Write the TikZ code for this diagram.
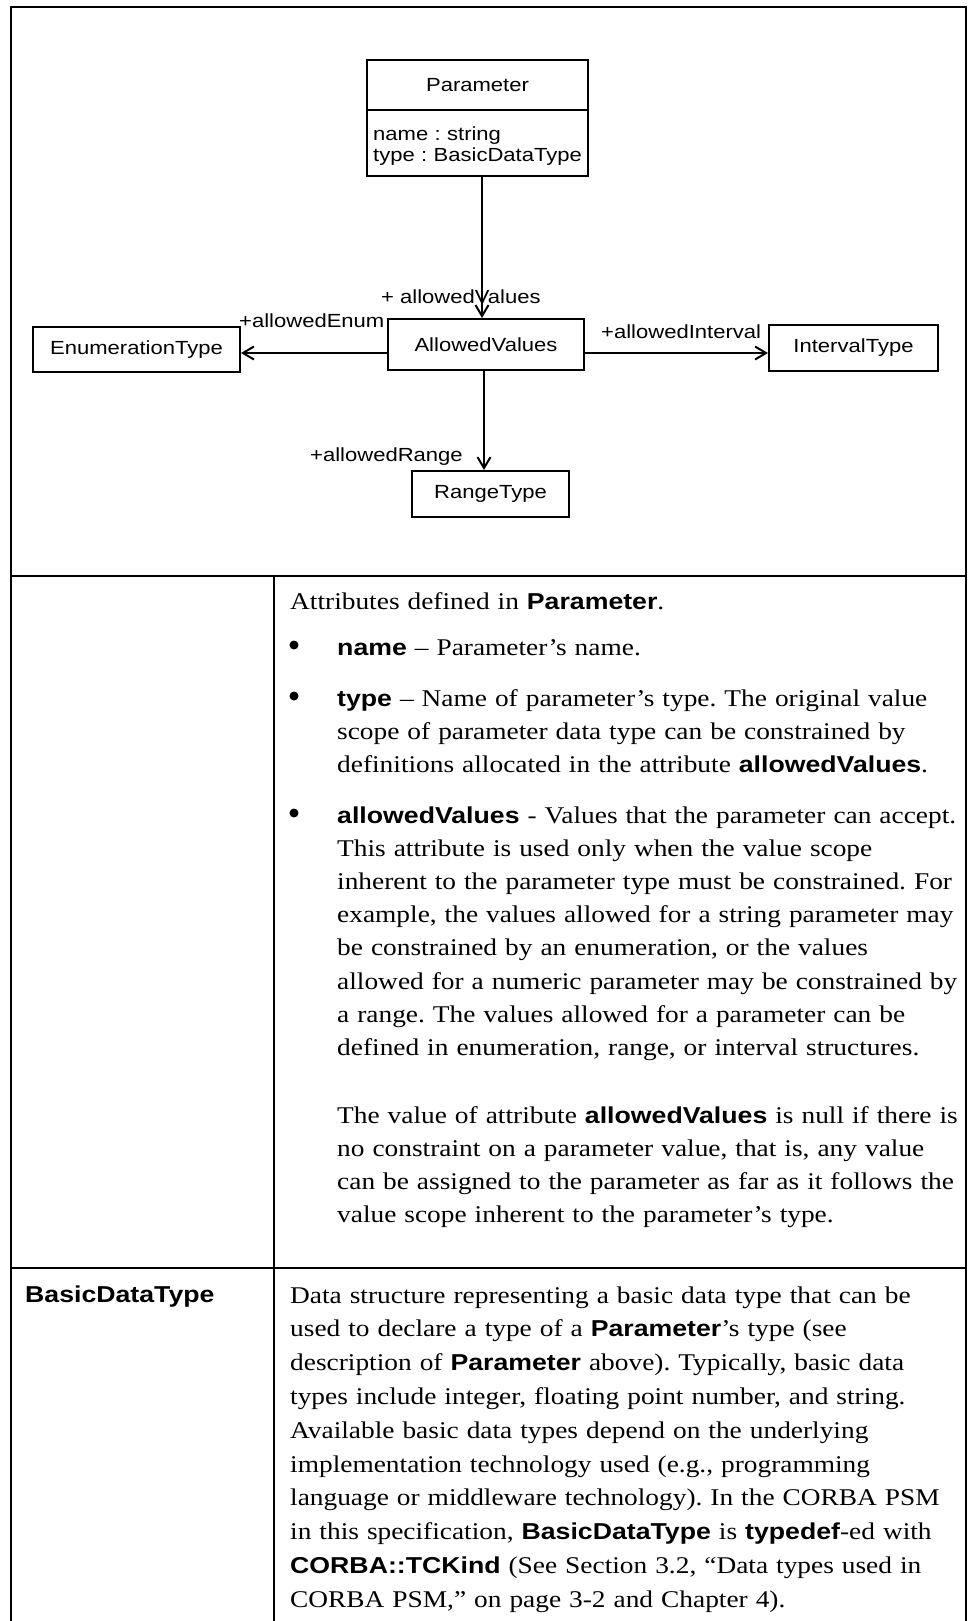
\documentclass[tikz,border=0pt]{standalone}
\usepackage{fontspec}
\setmainfont{Liberation Serif}[FakeStretch=1.14]
\setsansfont{Liberation Sans}[FakeStretch=1.16]
\usetikzlibrary{arrows.meta}
\newcommand{\kw}[1]{{\sffamily\bfseries\fontsize{23}{33}\selectfont #1}}

\begin{document}
\frenchspacing
\begin{tikzpicture}[x=1pt,y=-1pt,
    >={Straight Barb[length=11pt,width=13pt]},
    umlbox/.style={draw,line width=2pt,inner sep=0pt,font=\sffamily\fontsize{19}{20.7}\selectfont},
    rolelabel/.style={anchor=base west,inner sep=0pt,font=\sffamily\fontsize{19}{20.7}\selectfont},
    assoc/.style={line width=2pt},
    rule/.style={line width=1.3pt},
    bodytext/.style={anchor=base west,inner sep=0pt,text width=700pt,align=left,font=\fontsize{24}{33.2}\selectfont},
    bulletdot/.style={circle,fill,inner sep=0pt,minimum size=9pt}]
    \useasboundingbox (0,0) rectangle (969,1621);

    % class diagram
    \node[umlbox,minimum width=221pt,minimum height=50pt] (paramtitle) at (477.5,85) {Parameter};
    \node[umlbox,minimum width=221pt,minimum height=66pt] (paramattr) at (477.5,143) {};
    \node[rolelabel,text width=213pt,align=left] (paramattrtext) at (373,141) {name : string\\type : BasicDataType};
    \node[umlbox,minimum width=196pt,minimum height=51pt] (av) at (486,344.5) {AllowedValues};
    \node[umlbox,minimum width=207pt,minimum height=45pt] (enum) at (136.5,349.5) {EnumerationType};
    \node[umlbox,minimum width=169pt,minimum height=46pt] (interval) at (853.5,348) {IntervalType};
    \node[umlbox,minimum width=157pt,minimum height=46pt] (range) at (490.5,494) {RangeType};

    \coordinate (pv) at ([xshift=4.5pt]paramattr.south);
    \coordinate (avw) at ([yshift=-8.5pt]av.west);
    \coordinate (ave) at ([yshift=-8.5pt]av.east);
    \coordinate (avs) at ([xshift=-2pt]av.south);
    \draw[assoc,->] (pv) -- (pv |- av.north);
    \draw[assoc,->] (avw) -- (avw -| enum.east);
    \draw[assoc,->] (ave) -- (ave -| interval.west);
    \draw[assoc,->] (avs) -- (avs |- range.north);

    \node[rolelabel] (lblvalues) at (381,303) {+ allowedValues};
    \node[rolelabel] (lblenum) at (239,327) {+allowedEnum};
    \node[rolelabel] (lblinterval) at (601,338) {+allowedInterval};
    \node[rolelabel] (lblrange) at (310,461) {+allowedRange};

    % table frame
    \draw[rule] (11,1621) -- (11,7) -- (966,7) -- (966,1621);
    \draw[rule] (11,576) -- (966,576);
    \draw[rule] (11,1268) -- (966,1268);
    \draw[rule] (274,576) -- (274,1621);

    % attributes of Parameter
    \node[bodytext] (attrintro) at (290,609) {Attributes defined in \kw{Parameter}.};
    \node[bulletdot] (bulname) at (294,645) {};
    \node[bodytext] (attrname) at (337,655) {\kw{name} – Parameter’s name.};
    \node[bulletdot] (bultype) at (294,696) {};
    \node[bodytext] (attrtype) at (337,706) {\kw{type} – Name of parameter’s type. The original value\\
        scope of parameter data type can be constrained by\\
        definitions allocated in the attribute \kw{allowedValues}.};
    \node[bulletdot] (bulvalues) at (294,813) {};
    \node[bodytext] (attrvalues) at (337,823) {\kw{allowedValues} - Values that the parameter can accept.\\
        This attribute is used only when the value scope\\
        inherent to the parameter type must be constrained. For\\
        example, the values allowed for a string parameter may\\
        be constrained by an enumeration, or the values\\
        allowed for a numeric parameter may be constrained by\\
        a range. The values allowed for a parameter can be\\
        defined in enumeration, range, or interval structures.};
    \node[bodytext] (attrnull) at (337,1123) {The value of attribute \kw{allowedValues} is null if there is\\
        no constraint on a parameter value, that is, any value\\
        can be assigned to the parameter as far as it follows the\\
        value scope inherent to the parameter’s type.};

    % BasicDataType row
    \node[anchor=base west,inner sep=0pt] (basiclabel) at (25,1302) {\kw{BasicDataType}};
    \node[bodytext,font=\fontsize{24}{33.8}\selectfont] (basicdesc) at (290,1303) {Data structure representing a basic data type that can be\\
        used to declare a type of a \kw{Parameter}’s type (see\\
        description of \kw{Parameter} above). Typically, basic data\\
        types include integer, floating point number, and string.\\
        Available basic data types depend on the underlying\\
        implementation technology used (e.g., programming\\
        language or middleware technology). In the CORBA PSM\\
        in this specification, \kw{BasicDataType} is \kw{typedef}-ed with\\
        \kw{CORBA::TCKind} (See Section 3.2, “Data types used in\\
        CORBA PSM,” on page 3-2 and Chapter 4).};
\end{tikzpicture}
\end{document}
